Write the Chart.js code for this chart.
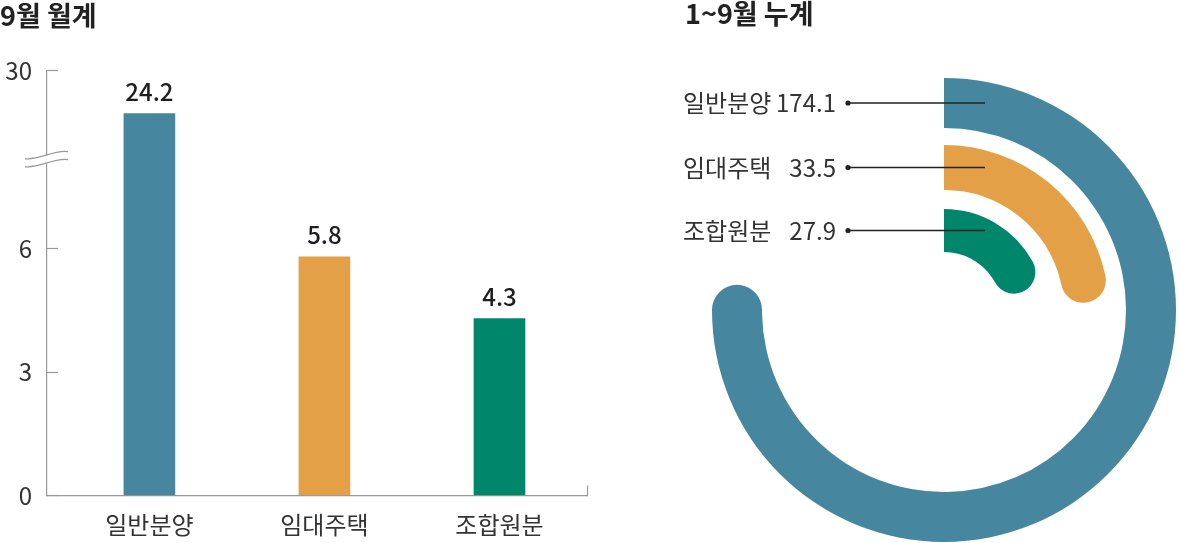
<!DOCTYPE html>
<html lang="ko">
<head>
<meta charset="utf-8">
<title>9월 월계 / 1~9월 누계</title>
<script src="https://cdn.jsdelivr.net/npm/chart.js@4.4.1/dist/chart.umd.min.js"></script>
<style>
  html, body { margin: 0; padding: 0; background: #fff; }
  body { width: 1180px; height: 543px; overflow: hidden; position: relative; }
  #monthly-wrap { position: absolute; left: 0; top: 0; }
  #total-wrap { position: absolute; left: 675px; top: 0; }
</style>
</head>
<body>
<div id="monthly-wrap"><canvas id="monthly" width="600" height="543"></canvas></div>
<div id="total-wrap"><canvas id="total" width="528" height="543"></canvas></div>
<script>
const FONT = "'Noto Sans CJK KR', 'Noto Sans', sans-serif";

// 9월 월계
const categories = ['일반분양', '임대주택', '조합원분'];
const monthValues = [24.2, 5.8, 4.3];
const yTicks = [0, 3, 6, 30];

// 1~9월 누계
const totalValues = [174.1, 33.5, 27.9];
// value that would close each ring - the picture does not draw the rings to one common scale
const ringFull = [226.3, 138.6, 130.4];

const colors = ['#46879f', '#e3a047', '#00866b'];
const ringThickness = [50, 45, 43];
const ringGap = [17, 19];

// y axis is broken between 6 and 30, one unit above the break takes much less room
const BREAK_AT = 6;
const ABOVE_BREAK = 0.18;
const squash = v => (v === null || v <= BREAK_AT) ? v : BREAK_AT + (v - BREAK_AT) * ABOVE_BREAK;
const unsquash = v => v <= BREAK_AT ? v : BREAK_AT + (v - BREAK_AT) / ABOVE_BREAK;

class BrokenScale extends Chart.LinearScale {
  getPixelForValue(value) {
    return super.getPixelForValue(squash(value));
  }
  getValueForPixel(pixel) {
    return unsquash(super.getValueForPixel(pixel));
  }
}
BrokenScale.id = 'broken';
BrokenScale.defaults = Chart.LinearScale.defaults;
Chart.register(BrokenScale);

const X_MIN = -0.585;
const X_MAX = 2.5;

// numbers above the bars
const barValueLabels = {
  id: 'barValueLabels',
  afterDatasetsDraw(chart) {
    const ctx = chart.ctx;
    const meta = chart.getDatasetMeta(0);
    ctx.save();
    ctx.font = `500 24px ${FONT}`;
    ctx.fillStyle = '#1e1e1e';
    ctx.textAlign = 'center';
    ctx.textBaseline = 'alphabetic';
    meta.data.forEach((bar, i) => {
      ctx.fillText(monthValues[i].toFixed(1), bar.x, bar.y - 13);
    });
    ctx.restore();
  }
};

// the little wave mark on the y axis
const axisBreak = {
  id: 'axisBreak',
  afterDraw(chart) {
    const ctx = chart.ctx;
    const y = chart.scales.y;
    const x0 = y.right;
    const mid = (y.getPixelForValue(BREAK_AT) + y.getPixelForValue(yTicks[yTicks.length - 1])) / 2;
    ctx.save();
    ctx.fillStyle = '#fff';
    ctx.fillRect(x0 - 2, mid - 4, 4, 8);
    ctx.strokeStyle = '#999';
    ctx.lineWidth = 1.2;
    [-4, 4].forEach(dy => {
      ctx.beginPath();
      ctx.moveTo(x0 - 22, mid + dy + 3);
      ctx.bezierCurveTo(x0 - 8, mid + dy + 5, x0 + 6, mid + dy - 6, x0 + 21, mid + dy - 4);
      ctx.stroke();
    });
    ctx.restore();
  }
};

new Chart(document.getElementById('monthly'), {
  type: 'bar',
  data: {
    datasets: [{
      data: monthValues.map((v, i) => ({ x: i, y: v })),
      backgroundColor: colors,
      barThickness: 51
    }]
  },
  options: {
    responsive: false,
    animation: false,
    events: [],
    layout: { padding: { left: 0, right: 13, top: 0, bottom: 0 } },
    plugins: {
      legend: { display: false },
      tooltip: { enabled: false },
      title: {
        display: true,
        text: '9월 월계',
        align: 'start',
        color: '#222',
        font: { family: FONT, size: 27, weight: 'bold', lineHeight: 1 },
        padding: { top: 2.5, bottom: 41.2 }
      }
    },
    scales: {
      x: {
        type: 'linear',
        min: X_MIN,
        max: X_MAX,
        offset: false,
        bounds: 'data',
        afterBuildTicks: s => { s.ticks = [0, 1, 2, X_MAX].map(value => ({ value })); },
        afterFit: s => {
          s.height = 47.5;
          // the label padding would otherwise be reserved at both ends of the axis
          s.paddingLeft = 0;
          s.paddingRight = 0;
        },
        ticks: {
          autoSkip: false,
          maxRotation: 0,
          padding: 25,
          color: '#333',
          font: { family: FONT, size: 24 },
          callback: v => categories[v] ?? ''
        },
        grid: {
          offset: false,
          drawOnChartArea: false,
          drawTicks: true,
          tickLength: -10,
          tickWidth: 1.2,
          tickColor: c => (c.tick && c.tick.value === X_MAX) ? '#999' : 'rgba(0,0,0,0)'
        },
        border: { display: true, color: '#999', width: 1.2 }
      },
      y: {
        type: 'broken',
        min: 0,
        max: squash(yTicks[yTicks.length - 1]),
        bounds: 'data',
        afterBuildTicks: s => { s.ticks = yTicks.map(value => ({ value })); },
        afterFit: s => { s.width = 47; },
        ticks: {
          autoSkip: false,
          padding: 26,
          color: '#333',
          font: { family: FONT, size: 24 },
          callback: v => String(v)
        },
        grid: {
          drawOnChartArea: false,
          drawTicks: true,
          tickLength: -11,
          tickWidth: 1.2,
          tickColor: '#999'
        },
        border: { display: true, color: '#999', width: 1.2 }
      }
    }
  },
  plugins: [barValueLabels, axisBreak]
});

// labels with leader lines to the ring starts
const ringLabels = {
  id: 'ringLabels',
  afterDatasetsDraw(chart) {
    const ctx = chart.ctx;
    ctx.save();
    ctx.font = `400 24px ${FONT}`;
    ctx.textBaseline = 'middle';
    chart.data.datasets.forEach((ds, di) => {
      if (ds.spacer) return;
      const i = categories.indexOf(ds.label);
      const arc = chart.getDatasetMeta(di).data[0];
      const y = arc.y - (arc.innerRadius + arc.outerRadius) / 2;
      const dotX = arc.x - 96;
      ctx.strokeStyle = '#222';
      ctx.lineWidth = 1.5;
      ctx.beginPath();
      ctx.moveTo(dotX, y);
      ctx.lineTo(arc.x + 41, y);
      ctx.stroke();
      ctx.fillStyle = '#222';
      ctx.beginPath();
      ctx.arc(dotX, y, 2.6, 0, Math.PI * 2);
      ctx.fill();
      ctx.fillStyle = '#333';
      ctx.textAlign = 'right';
      ctx.fillText(totalValues[i].toFixed(1), dotX - 12, y);
      ctx.textAlign = 'left';
      ctx.fillText(ds.label, arc.x - 261, y);
    });
    ctx.restore();
  }
};

const ringDatasets = [];
totalValues.forEach((v, i) => {
  if (i > 0) {
    // empty band between two rings
    ringDatasets.push({ spacer: true, data: [1], weight: ringGap[i - 1], backgroundColor: 'rgba(0,0,0,0)' });
  }
  ringDatasets.push({
    label: categories[i],
    data: [v, ringFull[i] - v],
    weight: ringThickness[i],
    backgroundColor: [colors[i], 'rgba(0,0,0,0)'],
    borderRadius: { outerStart: 0, innerStart: 0, outerEnd: 60, innerEnd: 60 }
  });
});

new Chart(document.getElementById('total'), {
  type: 'doughnut',
  data: { datasets: ringDatasets },
  options: {
    responsive: false,
    animation: false,
    events: [],
    cutout: 58,
    elements: { arc: { borderWidth: 0 } },
    layout: { padding: { left: 10, right: 0, top: 0, bottom: 1 } },
    plugins: {
      legend: { display: false },
      tooltip: { enabled: false },
      title: {
        display: true,
        text: '1~9월 누계',
        align: 'start',
        color: '#222',
        font: { family: FONT, size: 27, weight: 'bold', lineHeight: 1 },
        padding: { top: 0.5, bottom: 50.5 }
      }
    }
  },
  plugins: [ringLabels]
});
</script>
</body>
</html>
